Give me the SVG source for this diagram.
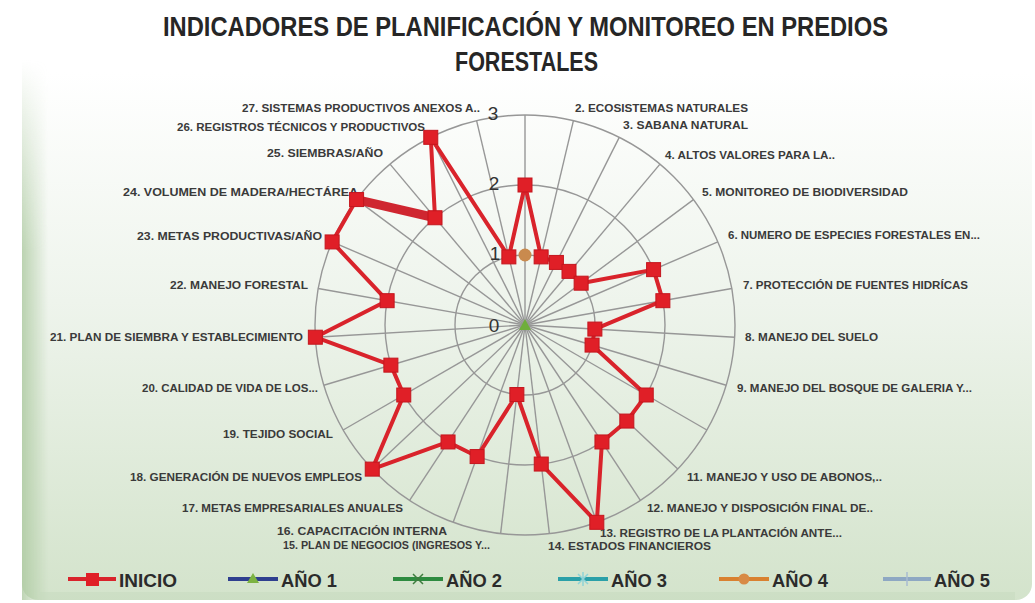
<svg xmlns="http://www.w3.org/2000/svg" width="1035" height="603" viewBox="0 0 1035 603">
<defs>
<linearGradient id="bg" x1="0" y1="0" x2="0" y2="603" gradientUnits="userSpaceOnUse">
<stop offset="0" stop-color="#ffffff"/>
<stop offset="0.12" stop-color="#ffffff"/>
<stop offset="0.5" stop-color="#eef4ec"/>
<stop offset="1" stop-color="#d3e3cb"/>
</linearGradient>
<linearGradient id="edge" x1="0" y1="0" x2="1" y2="0">
<stop offset="0" stop-color="#a9c79c" stop-opacity="0.75"/>
<stop offset="1" stop-color="#a9c79c" stop-opacity="0"/>
</linearGradient>
<linearGradient id="edgeV" x1="0" y1="0" x2="0" y2="1">
<stop offset="0" stop-color="#fff" stop-opacity="0"/>
<stop offset="0.35" stop-color="#fff" stop-opacity="1"/>
<stop offset="1" stop-color="#fff" stop-opacity="1"/>
</linearGradient>
<mask id="mv"><rect x="0" y="60" width="60" height="545" fill="url(#edgeV)"/></mask>
<rect id="sq" x="-7" y="-7" width="14" height="14"/>
</defs>
<style>
.grid{fill:none;stroke:#979797;stroke-width:1.4}
.lbl{font-family:"Liberation Sans",Arial,sans-serif;font-size:11px;font-weight:bold;fill:#3a3a3a}
.num{font-family:"Liberation Sans",Arial,sans-serif;font-size:19px;fill:#333;text-anchor:middle}
.title{font-family:"Liberation Sans",Arial,sans-serif;font-size:27px;font-weight:bold;fill:#262626}
.leg{font-family:"Liberation Sans",Arial,sans-serif;font-size:19px;font-weight:bold;fill:#2b2b2b}
.mk{fill:#e01f27;stroke:#c4161e;stroke-width:1}
</style>
<rect x="0" y="0" width="1035" height="603" fill="#ffffff"/>
<rect x="22" y="-30" width="1010" height="630" rx="16" fill="url(#bg)"/>
<rect x="22" y="60" width="26" height="540" fill="url(#edge)" mask="url(#mv)"/>
<rect x="40" y="592" width="975" height="8" fill="#c6d9bd" opacity="0.5"/>

<g id="title">
<text class="title" x="163" y="36" textLength="725" lengthAdjust="spacingAndGlyphs">INDICADORES DE PLANIFICACIÓN Y MONITOREO EN PREDIOS</text>
<text class="title" x="455" y="71" textLength="143" lengthAdjust="spacingAndGlyphs">FORESTALES</text>
</g>

<g id="grid">
<circle class="grid" cx="525" cy="325" r="70"/>
<circle class="grid" cx="525" cy="325" r="140"/>
<circle class="grid" cx="525" cy="325" r="210"/>
<g class="grid">
<line x1="525" y1="325" x2="525" y2="115" transform="rotate(0 525 325)"/>
<line x1="525" y1="325" x2="525" y2="115" transform="rotate(13.333 525 325)"/>
<line x1="525" y1="325" x2="525" y2="115" transform="rotate(26.667 525 325)"/>
<line x1="525" y1="325" x2="525" y2="115" transform="rotate(40 525 325)"/>
<line x1="525" y1="325" x2="525" y2="115" transform="rotate(53.333 525 325)"/>
<line x1="525" y1="325" x2="525" y2="115" transform="rotate(66.667 525 325)"/>
<line x1="525" y1="325" x2="525" y2="115" transform="rotate(80 525 325)"/>
<line x1="525" y1="325" x2="525" y2="115" transform="rotate(93.333 525 325)"/>
<line x1="525" y1="325" x2="525" y2="115" transform="rotate(106.667 525 325)"/>
<line x1="525" y1="325" x2="525" y2="115" transform="rotate(120 525 325)"/>
<line x1="525" y1="325" x2="525" y2="115" transform="rotate(133.333 525 325)"/>
<line x1="525" y1="325" x2="525" y2="115" transform="rotate(146.667 525 325)"/>
<line x1="525" y1="325" x2="525" y2="115" transform="rotate(160 525 325)"/>
<line x1="525" y1="325" x2="525" y2="115" transform="rotate(173.333 525 325)"/>
<line x1="525" y1="325" x2="525" y2="115" transform="rotate(186.667 525 325)"/>
<line x1="525" y1="325" x2="525" y2="115" transform="rotate(200 525 325)"/>
<line x1="525" y1="325" x2="525" y2="115" transform="rotate(213.333 525 325)"/>
<line x1="525" y1="325" x2="525" y2="115" transform="rotate(226.667 525 325)"/>
<line x1="525" y1="325" x2="525" y2="115" transform="rotate(240 525 325)"/>
<line x1="525" y1="325" x2="525" y2="115" transform="rotate(253.333 525 325)"/>
<line x1="525" y1="325" x2="525" y2="115" transform="rotate(266.667 525 325)"/>
<line x1="525" y1="325" x2="525" y2="115" transform="rotate(280 525 325)"/>
<line x1="525" y1="325" x2="525" y2="115" transform="rotate(293.333 525 325)"/>
<line x1="525" y1="325" x2="525" y2="115" transform="rotate(306.667 525 325)"/>
<line x1="525" y1="325" x2="525" y2="115" transform="rotate(320 525 325)"/>
<line x1="525" y1="325" x2="525" y2="115" transform="rotate(333.333 525 325)"/>
<line x1="525" y1="325" x2="525" y2="115" transform="rotate(346.667 525 325)"/>
</g>
</g>

<g id="axis-values">
<text class="num" x="493" y="120">3</text>
<text class="num" x="494" y="190">2</text>
<text class="num" x="495" y="260">1</text>
<text class="num" x="494" y="332">0</text>
</g>

<g id="labels">
<text class="lbl" x="575" y="112" textLength="173" lengthAdjust="spacingAndGlyphs">2. ECOSISTEMAS NATURALES</text>
<text class="lbl" x="623" y="129" textLength="125" lengthAdjust="spacingAndGlyphs">3. SABANA NATURAL</text>
<text class="lbl" x="665" y="159" textLength="170" lengthAdjust="spacingAndGlyphs">4. ALTOS VALORES PARA LA..</text>
<text class="lbl" x="702" y="196" textLength="206" lengthAdjust="spacingAndGlyphs">5. MONITOREO DE BIODIVERSIDAD</text>
<text class="lbl" x="728" y="239" textLength="252" lengthAdjust="spacingAndGlyphs">6. NUMERO DE ESPECIES FORESTALES EN...</text>
<text class="lbl" x="743" y="289" textLength="225" lengthAdjust="spacingAndGlyphs">7. PROTECCIÓN DE FUENTES HIDRÍCAS</text>
<text class="lbl" x="745" y="341" textLength="133" lengthAdjust="spacingAndGlyphs">8. MANEJO DEL SUELO</text>
<text class="lbl" x="737" y="392" textLength="235" lengthAdjust="spacingAndGlyphs">9. MANEJO DEL BOSQUE DE GALERIA Y...</text>
<text class="lbl" x="687" y="481" textLength="195" lengthAdjust="spacingAndGlyphs">11. MANEJO Y USO DE ABONOS,..</text>
<text class="lbl" x="647" y="512" textLength="226" lengthAdjust="spacingAndGlyphs">12. MANEJO Y DISPOSICIÓN FINAL DE..</text>
<text class="lbl" x="600" y="537" textLength="242" lengthAdjust="spacingAndGlyphs">13. REGISTRO DE LA PLANTACIÓN ANTE...</text>
<text class="lbl" x="548" y="550" textLength="163" lengthAdjust="spacingAndGlyphs">14. ESTADOS FINANCIEROS</text>
<text class="lbl" x="283" y="549" textLength="207" lengthAdjust="spacingAndGlyphs">15. PLAN DE NEGOCIOS (INGRESOS Y...</text>
<text class="lbl" x="277" y="535" textLength="170" lengthAdjust="spacingAndGlyphs">16.  CAPACITACIÓN INTERNA</text>
<text class="lbl" x="182" y="512" textLength="221" lengthAdjust="spacingAndGlyphs">17. METAS EMPRESARIALES ANUALES</text>
<text class="lbl" x="130" y="481" textLength="232" lengthAdjust="spacingAndGlyphs">18. GENERACIÓN DE NUEVOS EMPLEOS</text>
<text class="lbl" x="223" y="438" textLength="110" lengthAdjust="spacingAndGlyphs">19. TEJIDO SOCIAL</text>
<text class="lbl" x="142" y="392" textLength="176" lengthAdjust="spacingAndGlyphs">20. CALIDAD DE VIDA DE LOS...</text>
<text class="lbl" x="50" y="341" textLength="253" lengthAdjust="spacingAndGlyphs">21. PLAN DE SIEMBRA Y ESTABLECIMIENTO</text>
<text class="lbl" x="170" y="289" textLength="138" lengthAdjust="spacingAndGlyphs">22. MANEJO FORESTAL</text>
<text class="lbl" x="137" y="240" textLength="185" lengthAdjust="spacingAndGlyphs">23. METAS PRODUCTIVAS/AÑO</text>
<text class="lbl" x="123" y="196" textLength="235" lengthAdjust="spacingAndGlyphs">24. VOLUMEN DE MADERA/HECTÁREA</text>
<text class="lbl" x="267" y="157" textLength="116" lengthAdjust="spacingAndGlyphs">25. SIEMBRAS/AÑO</text>
<text class="lbl" x="177" y="131" textLength="248" lengthAdjust="spacingAndGlyphs">26. REGISTROS TÉCNICOS Y PRODUCTIVOS</text>
<text class="lbl" x="242" y="112" textLength="238" lengthAdjust="spacingAndGlyphs">27. SISTEMAS PRODUCTIVOS ANEXOS A..</text>
</g>

<g id="series-inicio">
<polygon fill="none" stroke="#d9232b" stroke-width="4" stroke-linejoin="round" points="525,185 541.14,256.89 556.41,262.44 569,271.38 581.14,283.19 653.59,269.63 662.87,300.69 594.88,329.07 592.06,345.08 646.24,395 626.83,421.07 601.95,441.95 596.82,522.33 541.25,464.05 516.87,394.53 477.12,456.56 448.05,441.95 372.25,469.11 403.76,395 390.88,365.15 315.35,337.21 387.13,300.69 332.12,241.94 356.58,199.56 435.01,217.75 430.77,137.33 508.86,256.89"/>
<line x1="356.58" y1="199.56" x2="435.01" y2="217.75" stroke="#cf2630" stroke-width="9"/>
<g class="mk">
<use href="#sq" x="525" y="185"/>
<use href="#sq" x="541.14" y="256.89"/>
<use href="#sq" x="556.41" y="262.44"/>
<use href="#sq" x="569" y="271.38"/>
<use href="#sq" x="581.14" y="283.19"/>
<use href="#sq" x="653.59" y="269.63"/>
<use href="#sq" x="662.87" y="300.69"/>
<use href="#sq" x="594.88" y="329.07"/>
<use href="#sq" x="592.06" y="345.08"/>
<use href="#sq" x="646.24" y="395"/>
<use href="#sq" x="626.83" y="421.07"/>
<use href="#sq" x="601.95" y="441.95"/>
<use href="#sq" x="596.82" y="522.33"/>
<use href="#sq" x="541.25" y="464.05"/>
<use href="#sq" x="516.87" y="394.53"/>
<use href="#sq" x="477.12" y="456.56"/>
<use href="#sq" x="448.05" y="441.95"/>
<use href="#sq" x="372.25" y="469.11"/>
<use href="#sq" x="403.76" y="395"/>
<use href="#sq" x="390.88" y="365.15"/>
<use href="#sq" x="315.35" y="337.21"/>
<use href="#sq" x="387.13" y="300.69"/>
<use href="#sq" x="332.12" y="241.94"/>
<use href="#sq" x="356.58" y="199.56"/>
<use href="#sq" x="435.01" y="217.75"/>
<use href="#sq" x="430.77" y="137.33"/>
<use href="#sq" x="508.86" y="256.89"/>
</g>
</g>

<g id="series-ano1">
<polygon points="525,319 531,330 519,330" fill="#6fae3c"/>
</g>
<g id="series-ano4">
<circle cx="525" cy="255" r="6.5" fill="#c98a4e"/>
</g>

<g id="legend">
<g id="leg-inicio">
<line x1="68" y1="579" x2="116" y2="579" stroke="#d9232b" stroke-width="4"/>
<rect x="86" y="573" width="13" height="13" fill="#e01f27"/>
<text class="leg" x="119" y="587" textLength="58" lengthAdjust="spacingAndGlyphs">INICIO</text>
</g>
<g id="leg-ano1">
<line x1="228" y1="579" x2="278" y2="579" stroke="#2f3f8f" stroke-width="4"/>
<polygon points="253,573 259,583 247,583" fill="#7cb342"/>
<text class="leg" x="281" y="587" textLength="56" lengthAdjust="spacingAndGlyphs">AÑO 1</text>
</g>
<g id="leg-ano2">
<line x1="393" y1="579" x2="443" y2="579" stroke="#2e8b40" stroke-width="4"/>
<path d="M413,574 L423,584 M423,574 L413,584" stroke="#3f7d3f" stroke-width="1.5"/>
<text class="leg" x="446" y="587" textLength="56" lengthAdjust="spacingAndGlyphs">AÑO 2</text>
</g>
<g id="leg-ano3">
<line x1="558" y1="579" x2="608" y2="579" stroke="#2aa0a8" stroke-width="4"/>
<path d="M578,574 L588,584 M588,574 L578,584 M583,572 L583,586" stroke="#8fd3d6" stroke-width="1.5"/>
<text class="leg" x="611" y="587" textLength="56" lengthAdjust="spacingAndGlyphs">AÑO 3</text>
</g>
<g id="leg-ano4">
<line x1="719" y1="579" x2="769" y2="579" stroke="#d98130" stroke-width="4"/>
<circle cx="744" cy="579" r="5.5" fill="#d88a45"/>
<text class="leg" x="772" y="587" textLength="56" lengthAdjust="spacingAndGlyphs">AÑO 4</text>
</g>
<g id="leg-ano5">
<line x1="883" y1="579" x2="931" y2="579" stroke="#8ea8c3" stroke-width="4"/>
<path d="M907,572 L907,586" stroke="#a9bdd0" stroke-width="1.5"/>
<text class="leg" x="934" y="587" textLength="56" lengthAdjust="spacingAndGlyphs">AÑO 5</text>
</g>
</g>
</svg>
